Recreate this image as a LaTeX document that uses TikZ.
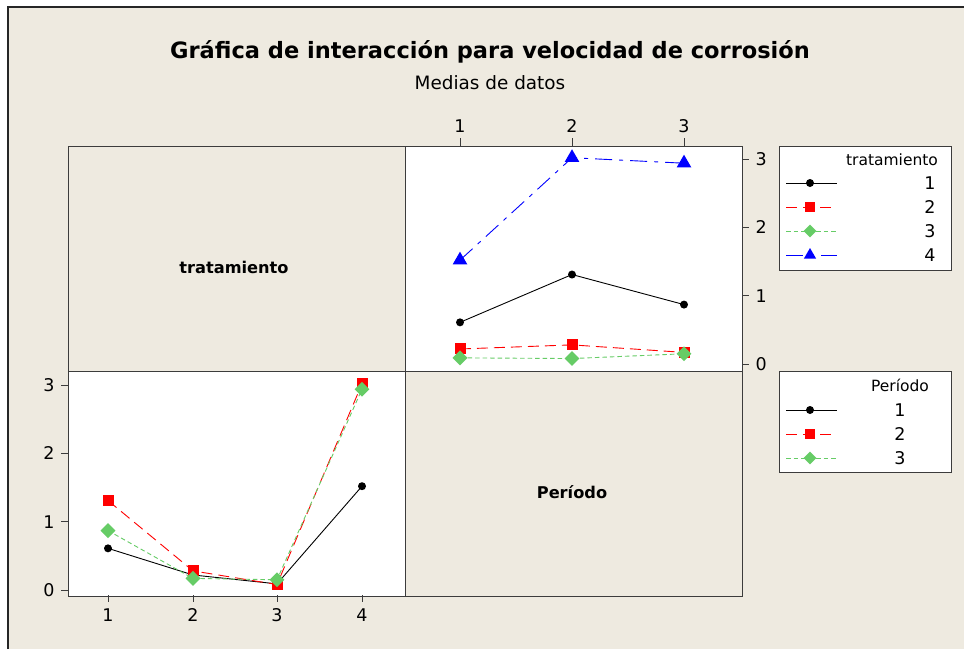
\documentclass[tikz,border=0pt]{standalone}
\usepackage{fontspec}
\setmainfont{DejaVu Sans}
\usepackage{xcolor}
\usepackage{tikz}
\usetikzlibrary{positioning,shapes}

\definecolor{fondo}{RGB}{238,234,224}
\definecolor{marco}{RGB}{60,60,60}
\definecolor{verde}{RGB}{102,204,102}

\tikzset{
  panel/.style={rectangle, draw=marco, line width=1pt, outer sep=0pt, inner sep=0pt, minimum width=337pt, minimum height=225pt},
  leyenda/.style={rectangle, draw=marco, line width=1pt, fill=white, outer sep=0pt, inner sep=0pt, minimum width=172pt},
  marca/.style={draw=marco, line width=1pt},
  cifra/.style={font=\fontsize{17.5}{20}\selectfont},
  s1/.style={black, line width=0.9pt},
  s2/.style={red, line width=0.9pt, dash pattern=on 11pt off 6pt},
  s3/.style={verde, line width=0.9pt, dash pattern=on 4.5pt off 3pt},
  s4/.style={blue, line width=0.9pt, dash pattern=on 17pt off 7pt on 4pt off 7pt},
  m1/.style={circle, fill=black, inner sep=0pt, minimum size=8pt},
  m2/.style={rectangle, fill=red, inner sep=0pt, minimum size=11pt},
  m3/.style={diamond, fill=verde, inner sep=0pt, minimum size=15pt},
  m4/.style={regular polygon, regular polygon sides=3, fill=blue, inner sep=0pt, minimum size=17pt},
}

\begin{document}
\begin{tikzpicture}[x=1pt, y=-1pt, font=\fontsize{15.5}{18}\selectfont]
    % fondo y marco
    \fill[white] (0,0) rectangle (964,649);
    \useasboundingbox (0,0) rectangle (964,649);
    \fill[fondo] (8,7) rectangle (964,649);
    \draw[line width=1.5pt, black!85] (8,649) -- (8,7) -- (964,7);

    % títulos
    \node (titulo) at (490,52) {\fontsize{22.5}{26}\selectfont\bfseries Gráfica de interacción para velocidad de corrosión};
    \node (subtitulo) at (490,83) {\fontsize{18.4}{22}\selectfont Medias de datos};

    % paneles
    \node [panel, fill=fondo] (pTL) at (236.5,258.5) {};
    \node [panel, fill=white, right=0pt of pTL] (pTR) {};
    \node [panel, fill=white, below=0pt of pTL] (pBL) {};
    \node [panel, fill=fondo, right=0pt of pBL] (pBR) {};
    \node [font=\fontsize{16.2}{19}\selectfont\bfseries] (etTrat) at (234,267) {tratamiento};
    \node [font=\fontsize{16.2}{19}\selectfont\bfseries] (etPer) at (572,492) {Período};

    % ejes del panel superior derecho
    \foreach \p/\x in {1/460,2/572,3/684} {
        \coordinate (ts\p) at (\x,146);
        \coordinate (te\p) at (\x,138);
        \draw[marca] (ts\p) -- (te\p);
        \node[cifra] (lt\p) at (\x,126) {\p};
    }
    \foreach \v in {0,1,2,3} {
        \coordinate (rs\v) at (742,{364-68.3*\v});
        \coordinate (re\v) at (749,{364-68.3*\v});
        \draw[marca] (rs\v) -- (re\v);
        \node[cifra, anchor=west] (lr\v) at (752,{364-68.3*\v}) {\v};
    }

    % ejes del panel inferior izquierdo
    \foreach \t/\x in {1/108,2/193,3/277,4/362} {
        \coordinate (bs\t) at (\x,595);
        \coordinate (be\t) at (\x,602);
        \draw[marca] (bs\t) -- (be\t);
        \node[cifra] (lb\t) at (\x,615) {\t};
    }
    \foreach \v in {0,1,2,3} {
        \coordinate (ls\v) at (68,{590-68.3*\v});
        \coordinate (le\v) at (61,{590-68.3*\v});
        \draw[marca] (ls\v) -- (le\v);
        \node[cifra, anchor=east] (ll\v) at (58,{590-68.3*\v}) {\v};
    }

    % datos: tratamiento x período
    \foreach \t/\va/\vb/\vc in {1/0.61/1.31/0.87, 2/0.22/0.28/0.17, 3/0.09/0.08/0.15, 4/1.52/3.02/2.94} {
        \coordinate (tr\t-1) at (460,{364-68.3*\va});
        \coordinate (tr\t-2) at (572,{364-68.3*\vb});
        \coordinate (tr\t-3) at (684,{364-68.3*\vc});
    }
    \foreach \p/\va/\vb/\vc/\vd in {1/0.61/0.22/0.09/1.52, 2/1.31/0.28/0.08/3.02, 3/0.87/0.17/0.15/2.94} {
        \coordinate (bl\p-1) at (108,{590-68.3*\va});
        \coordinate (bl\p-2) at (193,{590-68.3*\vb});
        \coordinate (bl\p-3) at (277,{590-68.3*\vc});
        \coordinate (bl\p-4) at (362,{590-68.3*\vd});
    }

    % panel superior derecho: una línea por tratamiento
    \draw[s1] (tr1-1) -- (tr1-2) -- (tr1-3);
    \foreach \j in {1,2,3} \node[m1] (mt1-\j) at (tr1-\j) {};
    \draw[s2] (tr2-1) -- (tr2-2) -- (tr2-3);
    \foreach \j in {1,2,3} \node[m2] (mt2-\j) at (tr2-\j) {};
    \draw[s3] (tr3-1) -- (tr3-2) -- (tr3-3);
    \foreach \j in {1,2,3} \node[m3] (mt3-\j) at (tr3-\j) {};
    \draw[s4] (tr4-1) -- (tr4-2) -- (tr4-3);
    \foreach \j in {1,2,3} \node[m4] (mt4-\j) at (tr4-\j) {};

    % panel inferior izquierdo: una línea por período
    \draw[s1] (bl1-1) -- (bl1-2) -- (bl1-3) -- (bl1-4);
    \foreach \j in {1,2,3,4} \node[m1] (mb1-\j) at (bl1-\j) {};
    \draw[s2] (bl2-1) -- (bl2-2) -- (bl2-3) -- (bl2-4);
    \foreach \j in {1,2,3,4} \node[m2] (mb2-\j) at (bl2-\j) {};
    \draw[s3] (bl3-1) -- (bl3-2) -- (bl3-3) -- (bl3-4);
    \foreach \j in {1,2,3,4} \node[m3] (mb3-\j) at (bl3-\j) {};

    % leyenda de tratamiento
    \node [leyenda, minimum height=124pt] (leg1) at (865,208) {};
    \node (leg1t) at (892,160) {tratamiento};
    \foreach \k/\y in {1/183,2/207,3/231,4/255} {
        \coordinate (la\k) at (786,\y);
        \coordinate (lb\k) at (837,\y);
        \coordinate (lm\k) at (810,\y);
        \node[cifra] (ln\k) at (930,\y) {\k};
    }
    \draw[s1] (la1) -- (lb1);
    \node[m1] (lp1) at (lm1) {};
    \draw[s2] (la2) -- (lb2);
    \node[m2, minimum size=10pt] (lp2) at (lm2) {};
    \draw[s3] (la3) -- (lb3);
    \node[m3, minimum size=13pt] (lp3) at (lm3) {};
    \draw[s4] (la4) -- (lb4);
    \node[m4, minimum size=14pt] (lp4) at (lm4) {};

    % leyenda de período
    \node [leyenda, minimum height=101pt] (leg2) at (865,421.5) {};
    \node (leg2t) at (900,385) {Período};
    \foreach \k/\y in {1/410,2/434,3/458} {
        \coordinate (pa\k) at (786,\y);
        \coordinate (pb\k) at (837,\y);
        \coordinate (pm\k) at (810,\y);
        \node[cifra] (pn\k) at (900,\y) {\k};
    }
    \draw[s1] (pa1) -- (pb1);
    \node[m1] (pp1) at (pm1) {};
    \draw[s2] (pa2) -- (pb2);
    \node[m2, minimum size=10pt] (pp2) at (pm2) {};
    \draw[s3] (pa3) -- (pb3);
    \node[m3, minimum size=13pt] (pp3) at (pm3) {};
\end{tikzpicture}
\end{document}
